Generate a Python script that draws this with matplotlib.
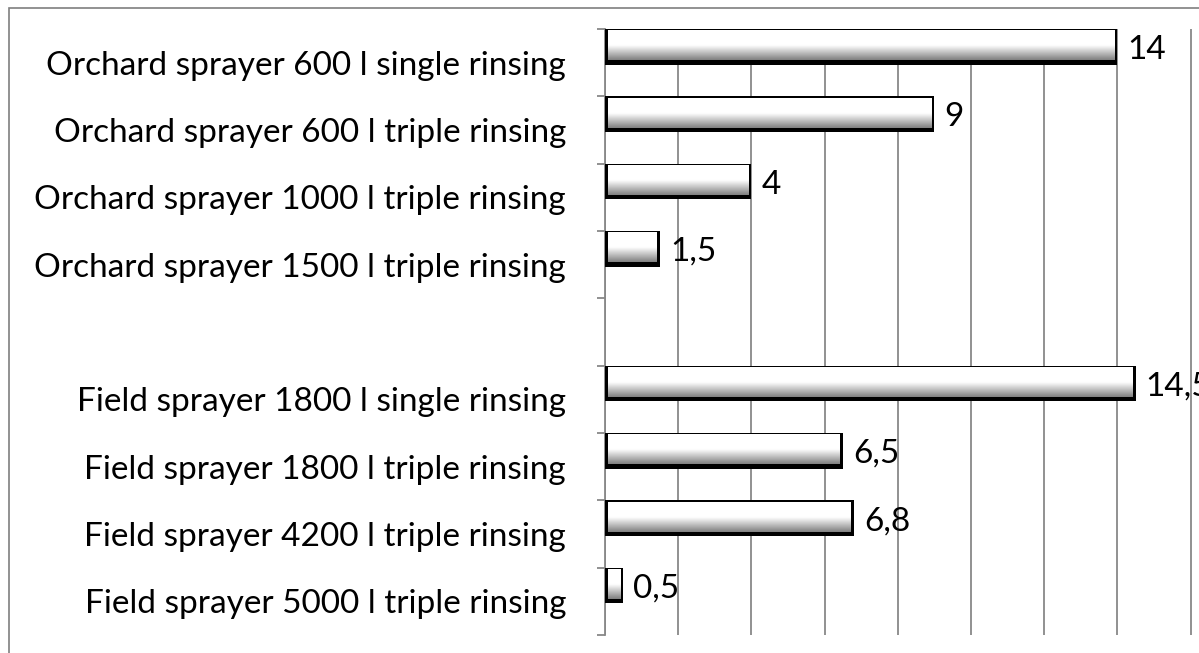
import numpy as np
import matplotlib
matplotlib.use("Agg")
import matplotlib.pyplot as plt
from matplotlib.patches import Rectangle

plt.rcParams["font.family"] = ["Lato", "DejaVu Sans"]

labels = [
    "Orchard sprayer 600 l single rinsing",
    "Orchard sprayer 600 l triple rinsing",
    "Orchard sprayer 1000 l triple rinsing",
    "Orchard sprayer 1500 l triple rinsing",
    "",
    "Field sprayer 1800 l single rinsing",
    "Field sprayer 1800 l triple rinsing",
    "Field sprayer 4200 l triple rinsing",
    "Field sprayer 5000 l triple rinsing",
]
values = [14, 9, 4, 1.5, None, 14.5, 6.5, 6.8, 0.5]
value_text = ["14", "9", "4", "1,5", "", "14,5", "6,5", "6,8", "0,5"]

W, H = 1199, 653
fig = plt.figure(figsize=(W / 100, H / 100), dpi=100)
fig.patches.append(Rectangle((9 / W, -0.1), 1.2, 1 - 8 / H + 0.1,
                             transform=fig.transFigure, fill=False,
                             edgecolor="#7f7f7f", linewidth=1.2))

ax = fig.add_axes([605 / W, 1 - 635 / H, 1 - 605 / W, (635 - 29) / H])
n = len(labels)
ax.set_xlim(0, (W - 605) / 36.6)
ax.set_ylim(n, 0)

for s in ["top", "right", "bottom"]:
    ax.spines[s].set_visible(False)
ax.spines["left"].set_color("#888888")
ax.spines["left"].set_linewidth(1.3)

ax.set_xticks(np.arange(0, 17, 2))
ax.tick_params(axis="x", length=0, labelbottom=False)
ax.grid(axis="x", color="#888888", linewidth=1.3)
ax.set_axisbelow(True)

ax.set_yticks(np.arange(n) + 0.5)
ax.set_yticklabels(labels, fontsize=24)
ax.set_yticks(np.arange(n + 1), minor=True)
ax.tick_params(axis="y", which="major", length=0, pad=28)
ax.tick_params(axis="y", which="minor", length=6, width=1.3, color="#888888",
               direction="out")

fig.canvas.draw()
px_x = ax.transData.transform((1, 0))[0] - ax.transData.transform((0, 0))[0]
px_y = abs(ax.transData.transform((0, 1))[1] - ax.transData.transform((0, 0))[1])

bar_h = 0.53
grad = np.concatenate([np.ones(50), np.linspace(1, 0.5, 50)])[:, None]
grad = np.repeat(grad, 2, axis=1)

for i, v in enumerate(values):
    if v is None:
        continue
    y0 = i
    ax.barh(y0, v, height=bar_h, align="edge", color="black", zorder=3)
    l, r, t, b = 3 / px_x, 3 / px_x, 1.5 / px_y, 4.5 / px_y
    ax.imshow(grad, cmap="gray", vmin=0, vmax=1, aspect="auto",
              extent=(l, v - r, y0 + bar_h - b, y0 + t), zorder=4,
              interpolation="bilinear")
    ax.text(v + 10 / px_x, y0 + bar_h / 2, value_text[i], fontsize=24,
            va="center_baseline", ha="left", zorder=5)

ax.set_xlim(0, (W - 605) / 36.6)
ax.set_ylim(n, 0)

fig.savefig("out.png", dpi=100)
